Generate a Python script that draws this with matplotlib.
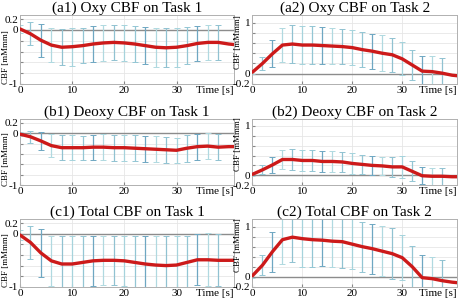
import numpy as np
import matplotlib
matplotlib.use("Agg")
import matplotlib.pyplot as plt

plt.rcParams['font.family'] = 'Liberation Serif'

## Data
t_curve = [0, 2, 4, 6, 8, 10, 12, 14, 16, 18, 20, 22, 24, 26, 28, 30, 32, 34, 36, 38, 40, 41]
t_bars = [0, 2, 4, 6, 8, 10, 12, 14, 16, 18, 20, 22, 24, 26, 28, 30, 32, 34, 36, 38]

oxy1 = [0.02, -0.07, -0.19, -0.28, -0.32, -0.31, -0.29, -0.26, -0.24, -0.23, -0.24,
        -0.26, -0.29, -0.32, -0.33, -0.32, -0.29, -0.25, -0.23, -0.23, -0.26, -0.27]
oxy1_sd = [0.07, 0.21, 0.31, 0.31, 0.33, 0.35, 0.33, 0.33, 0.33, 0.32,
           0.33, 0.33, 0.35, 0.36, 0.36, 0.36, 0.35, 0.32, 0.32, 0.33]

oxy2 = [0.03, 0.20, 0.39, 0.56, 0.58, 0.56, 0.56, 0.55, 0.54, 0.53, 0.51,
        0.47, 0.44, 0.40, 0.37, 0.29, 0.17, 0.05, 0.04, 0.01, -0.03, -0.04]
oxy2_sd = [0.04, 0.13, 0.26, 0.33, 0.37, 0.37, 0.37, 0.37, 0.35, 0.35,
           0.34, 0.34, 0.34, 0.35, 0.33, 0.32, 0.30, 0.30, 0.30, 0.29]

deoxy1 = [-0.02, -0.07, -0.15, -0.24, -0.28, -0.28, -0.28, -0.27, -0.27, -0.28, -0.28,
          -0.29, -0.30, -0.31, -0.32, -0.33, -0.29, -0.26, -0.25, -0.27, -0.26, -0.26]
deoxy1_sd = [0.04, 0.12, 0.18, 0.22, 0.24, 0.24, 0.23, 0.24, 0.25, 0.25,
             0.25, 0.25, 0.25, 0.25, 0.25, 0.24, 0.26, 0.25, 0.25, 0.25]

deoxy2 = [0.02, 0.11, 0.21, 0.32, 0.32, 0.30, 0.30, 0.28, 0.28, 0.27, 0.24,
          0.22, 0.20, 0.19, 0.17, 0.17, 0.08, -0.01, -0.02, -0.02, -0.03, -0.03]
deoxy2_sd = [0.03, 0.09, 0.17, 0.20, 0.21, 0.21, 0.21, 0.21, 0.21, 0.21,
             0.21, 0.19, 0.19, 0.19, 0.21, 0.22, 0.20, 0.17, 0.17, 0.17]

total1 = [-0.02, -0.16, -0.36, -0.51, -0.57, -0.57, -0.54, -0.51, -0.50, -0.50, -0.51,
          -0.54, -0.57, -0.59, -0.60, -0.59, -0.54, -0.49, -0.49, -0.50, -0.50, -0.50]
total1_sd = [0.09, 0.32, 0.46, 0.47, 0.53, 0.53, 0.50, 0.48, 0.47, 0.47,
             0.48, 0.50, 0.53, 0.55, 0.56, 0.55, 0.50, 0.48, 0.50, 0.49]

total2 = [0.02, 0.23, 0.50, 0.74, 0.79, 0.76, 0.74, 0.73, 0.71, 0.70, 0.65,
          0.60, 0.56, 0.51, 0.46, 0.38, 0.20, -0.02, -0.04, -0.08, -0.11, -0.12]
total2_sd = [0.04, 0.20, 0.40, 0.48, 0.50, 0.56, 0.54, 0.52, 0.52, 0.52,
             0.50, 0.50, 0.50, 0.50, 0.51, 0.45, 0.42, 0.46, 0.43, 0.41]

titles = ['(a1) Oxy CBF on Task 1', '(a2) Oxy CBF on Task 2',
          '(b1) Deoxy CBF on Task 1', '(b2) Deoxy CBF on Task 2',
          '(c1) Total CBF on Task 1', '(c2) Total CBF on Task 2']
means = [oxy1, oxy2, deoxy1, deoxy2, total1, total2]
sds = [oxy1_sd, oxy2_sd, deoxy1_sd, deoxy2_sd, total1_sd, total2_sd]

bar_colors = ['#a6d3dc', '#93c6d4', '#6ea7c2', '#b0d9e0', '#90c2d1']

## Layout (figure fractions)
col_left = [0.043, 0.543]
col_width = [0.460, 0.440]
row_bottom = [0.724, 0.391, 0.057]
row_height = [0.227, 0.219, 0.222]
ylab_x = [-0.046, -0.05]
ylab_y = [0.39, 0.61]

fig = plt.figure(figsize=(4.65, 3.04), dpi=100)

for i in range(6):
    r, c = i // 2, i % 2
    ax = fig.add_axes([col_left[c], row_bottom[r], col_width[c], row_height[r]])
    m = np.array(means[i])
    m_bars = m[:len(t_bars)]
    sd = np.array(sds[i])

    ax.axhline(0, color='#8c8c8c', lw=1.0, zorder=1)
    for k, tb in enumerate(t_bars):
        ax.errorbar(tb, m_bars[k], yerr=sd[k], fmt='none',
                    ecolor=bar_colors[k % len(bar_colors)], elinewidth=0.9,
                    capsize=2.0, capthick=0.7, zorder=2)
    ax.plot(t_curve, m, color='#cc1a1a', lw=2.4, zorder=3, solid_capstyle='round')

    ax.set_xlim(0, 41)
    ax.set_xticks([0, 10, 20, 30])
    if c == 0:
        ax.set_ylim(-1, 0.28)
        ax.set_yticks([-1, -0.8, -0.6, -0.4, -0.2, 0, 0.2])
        ax.set_yticklabels(['-1', '', '', '', '', '0', '0.2'])
    else:
        ax.set_ylim(-0.2, 1.15)
        ax.set_yticks([-0.2, 0, 0.2, 0.4, 0.6, 0.8, 1])
        ax.set_yticklabels(['-0.2', '0', '', '', '', '', '1'])
    ax.grid(True, color='#e6e6e6', lw=0.6)
    ax.set_axisbelow(True)
    ax.tick_params(direction='in', length=2, labelsize=8, pad=1.5, color='#888888')
    for s in ax.spines.values():
        s.set_color('#b0b0b0')
        s.set_linewidth(0.7)
    ax.set_ylabel('CBF [mMmm]', fontsize=6.5)
    ax.yaxis.set_label_coords(ylab_x[c], ylab_y[c])
    ax.set_title(titles[i], fontsize=11, pad=1.5)
    ax.text(1.0, -0.03, 'Time [s]', transform=ax.transAxes, ha='right', va='top', fontsize=8)

fig.savefig('out.png', dpi=100)
